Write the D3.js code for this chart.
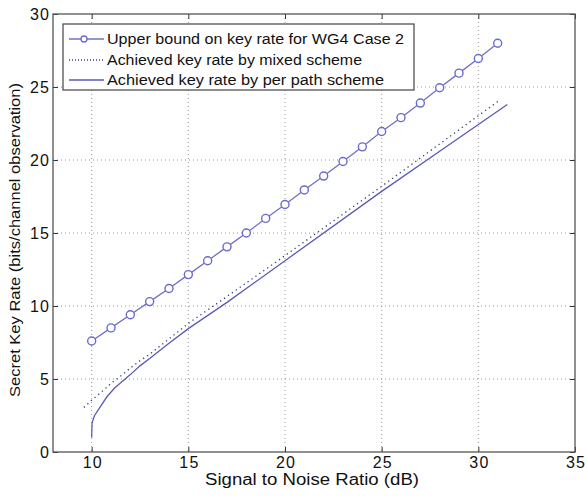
<!DOCTYPE html>
<html>
<head>
<meta charset="utf-8">
<script src="https://cdn.jsdelivr.net/npm/d3@7"></script>
<style>
  html, body { margin: 0; padding: 0; background: #fff; }
  svg { display: block; font-family: Arial, "Liberation Sans", sans-serif; }
</style>
</head>
<body>
<div id="chart"></div>
<script>
// ---- data ----
const upperSnr  = [10,11,12,13,14,15,16,17,18,19,20,21,22,23,24,25,26,27,28,29,30,31];
const upperRate = [7.6,8.5,9.4,10.3,11.2,12.15,13.1,14.05,15.0,16.0,16.95,17.95,18.9,19.9,20.9,21.95,22.9,23.9,24.95,25.95,26.95,28.0];

const mixedSnr  = [9.6,10,10.5,11,11.5,12,12.5,13,14,15,17,20,25,28,31];
const mixedRate = [3.05,3.55,4.1,4.7,5.2,5.75,6.25,6.7,7.75,8.8,10.65,13.45,18.2,21.1,24.0];

const pathSnr   = [10,10.02,10.15,10.4,10.8,11.2,12,12.5,13,14,15,17,20,25,28,31.5];
const pathRate  = [1.0,2.0,2.5,3.0,3.8,4.4,5.3,5.9,6.4,7.45,8.45,10.25,13.1,17.85,20.6,23.8];

const xTicks = [10,15,20,25,30,35];
const yTicks = [0,5,10,15,20,25,30];
const legendLabels = [
  'Upper bound on key rate for WG4 Case 2',
  'Achieved key rate by mixed scheme',
  'Achieved key rate by per path scheme'
];

// ---- layout ----
const W = 585, H = 496;
const L = 53, R = 575, T = 14, B = 452;

const x = d3.scaleLinear().domain([8, 35]).range([L, R]);
const y = d3.scaleLinear().domain([0, 30]).range([B, T]);

const svg = d3.select('#chart').append('svg')
  .attr('width', W).attr('height', H)
  .attr('viewBox', `0 0 ${W} ${H}`);

svg.append('rect').attr('width', W).attr('height', H).attr('fill', '#fff');

// grid (dotted)
const grid = svg.append('g').attr('stroke', '#9a9a9a').attr('stroke-width', 1)
  .attr('stroke-dasharray', '1,3');
xTicks.filter(v => v > 8 && v < 35).forEach(v => {
  grid.append('line').attr('x1', x(v)).attr('x2', x(v)).attr('y1', T).attr('y2', B);
});
yTicks.filter(v => v > 0 && v < 30).forEach(v => {
  grid.append('line').attr('x1', L).attr('x2', R).attr('y1', y(v)).attr('y2', y(v));
});

// axes, ticks inside
const tickLen = 5;
const axBottom = svg.append('g').attr('transform', `translate(0,${B})`)
  .call(d3.axisBottom(x).tickValues(xTicks).tickSizeInner(-tickLen).tickSizeOuter(0).tickPadding(5));
const axTop = svg.append('g').attr('transform', `translate(0,${T})`)
  .call(d3.axisTop(x).tickValues(xTicks).tickSizeInner(-tickLen).tickSizeOuter(0).tickFormat(''));
const axLeft = svg.append('g').attr('transform', `translate(${L},0)`)
  .call(d3.axisLeft(y).tickValues(yTicks).tickSizeInner(-tickLen).tickSizeOuter(0).tickPadding(4));
const axRight = svg.append('g').attr('transform', `translate(${R},0)`)
  .call(d3.axisRight(y).tickValues(yTicks).tickSizeInner(-tickLen).tickSizeOuter(0).tickFormat(''));

[axBottom, axTop, axLeft, axRight].forEach(a => {
  a.select('.domain').remove();
  a.selectAll('line').attr('stroke', '#333');
  a.selectAll('text').attr('font-size', 16).attr('fill', '#111')
    .attr('font-family', 'Arial, "Liberation Sans", sans-serif');
});
axBottom.selectAll('text').attr('textLength', d => d >= 10 ? 19 : null);
axLeft.selectAll('text').attr('textLength', d => d >= 10 ? 19 : null);

svg.append('rect').attr('x', L).attr('y', T).attr('width', R - L).attr('height', B - T)
  .attr('fill', 'none').attr('stroke', '#555').attr('stroke-width', 1.3);

// axis labels
svg.append('text').attr('x', (L + R) / 2 - 2).attr('y', 485)
  .attr('text-anchor', 'middle').attr('font-size', 16).attr('fill', '#111')
  .attr('textLength', 214).attr('lengthAdjust', 'spacingAndGlyphs')
  .text('Signal to Noise Ratio (dB)');
svg.append('text')
  .attr('transform', `translate(20,240) rotate(-90)`)
  .attr('text-anchor', 'middle').attr('font-size', 14.5).attr('fill', '#111')
  .attr('textLength', 314).attr('lengthAdjust', 'spacingAndGlyphs')
  .text('Secret Key Rate (bits/channel observation)');

// ---- series ----
const line = d3.line().x(d => x(d[0])).y(d => y(d[1]));
const upper = d3.zip(upperSnr, upperRate);
const mixed = d3.zip(mixedSnr, mixedRate);
const perPath = d3.zip(pathSnr, pathRate);

svg.append('path').datum(perPath).attr('d', line)
  .attr('fill', 'none').attr('stroke', '#5a5ab8').attr('stroke-width', 1.3);
svg.append('path').datum(mixed).attr('d', line)
  .attr('fill', 'none').attr('stroke', '#3c3c8c').attr('stroke-width', 1.3)
  .attr('stroke-dasharray', '1.3,3.5');
svg.append('path').datum(upper).attr('d', line)
  .attr('fill', 'none').attr('stroke', '#7070c8').attr('stroke-width', 1.3);
svg.append('g').selectAll('circle').data(upper).join('circle')
  .attr('cx', d => x(d[0])).attr('cy', d => y(d[1])).attr('r', 4)
  .attr('fill', '#fff').attr('stroke', '#6a6ad0').attr('stroke-width', 1.4);

// ---- legend ----
const lg = svg.append('g');
lg.append('rect').attr('x', 63).attr('y', 24).attr('width', 351).attr('height', 66)
  .attr('fill', '#fff').attr('stroke', '#444').attr('stroke-width', 1.2);
const rows = [39, 60, 80];
const legendWidths = [297, 255, 277];
legendLabels.forEach((t, i) => {
  const ly = rows[i];
  const ln = lg.append('line').attr('x1', 69).attr('x2', 104).attr('y1', ly).attr('y2', ly)
    .attr('stroke-width', 1.3);
  if (i === 0) {
    ln.attr('stroke', '#7070c8');
    lg.append('circle').attr('cx', 84).attr('cy', ly).attr('r', 3)
      .attr('fill', '#fff').attr('stroke', '#6a6ad0').attr('stroke-width', 1.3);
  } else if (i === 1) {
    ln.attr('stroke', '#3c3c8c').attr('stroke-dasharray', '1,2');
  } else {
    ln.attr('stroke', '#5a5ab8');
  }
  lg.append('text').attr('x', 107).attr('y', ly + 5)
    .attr('font-size', 14).attr('fill', '#111')
    .attr('textLength', legendWidths[i]).attr('lengthAdjust', 'spacingAndGlyphs')
    .text(t);
});
</script>
</body>
</html>
